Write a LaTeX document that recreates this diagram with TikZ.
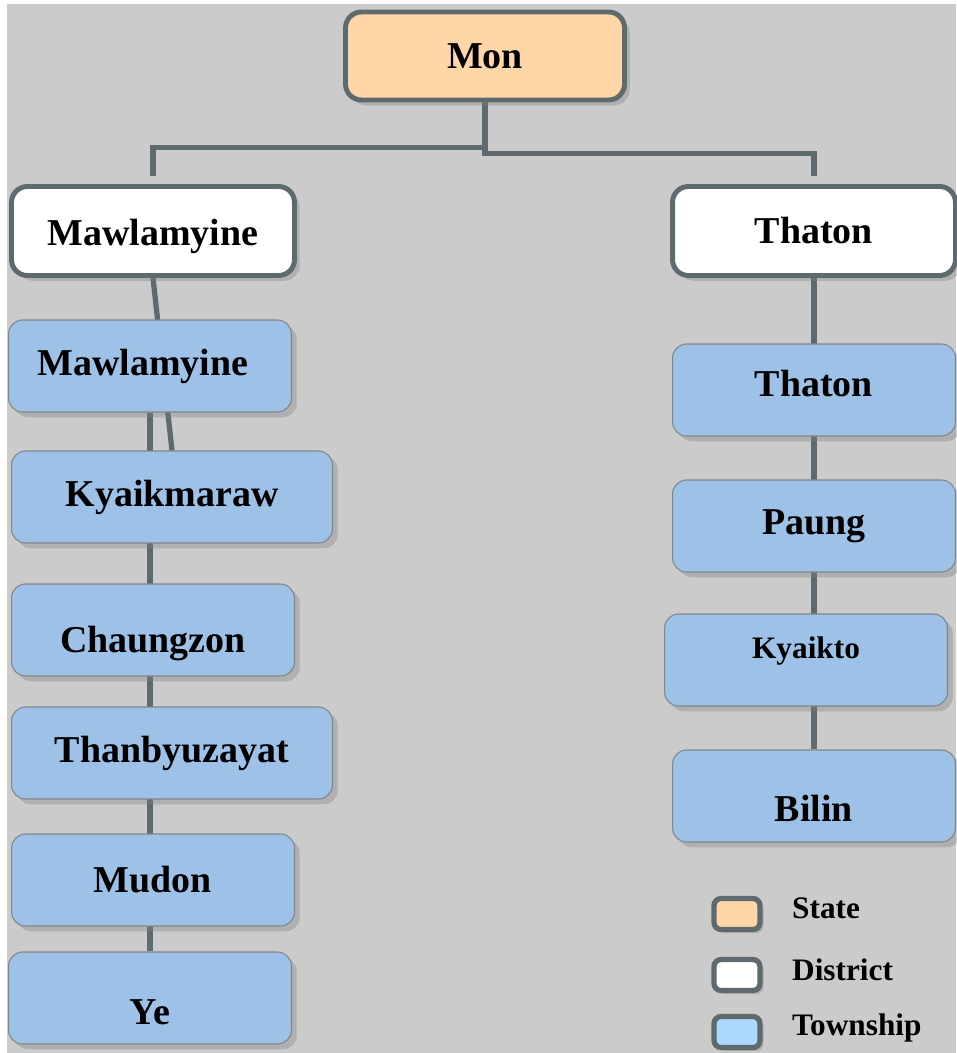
\documentclass[tikz,border=0pt]{standalone}
\usepackage{fontspec}
\setmainfont{Liberation Serif}
\usepackage{tikz}
\usetikzlibrary{positioning, shadows, backgrounds}
\definecolor{myframe}{RGB}{94,106,109}
\definecolor{mybg}{RGB}{203,203,203}
\definecolor{mypeach}{RGB}{255,214,168}
\definecolor{myblue}{RGB}{158,193,231}
\definecolor{mylight}{RGB}{173,216,254}
% move a label inside its box without changing the box
\newcommand{\nudge}[2]{\raisebox{#1}[\height][\depth]{#2}}
\tikzset{
  statebox/.style={rectangle, draw=myframe, fill=mypeach,
    minimum width=5.58cm, minimum height=1.76cm, rounded corners=9pt,
    font=\bfseries\fontsize{21.6}{24}\selectfont, line width=2.8pt,
    drop shadow={shadow xshift=3pt, shadow yshift=-3pt, opacity=0.35}},
  distbox/.style={statebox, fill=white, minimum width=5.66cm, minimum height=1.78cm},
  twpbox/.style={rectangle, draw=myframe!80, fill=myblue,
    minimum width=5.66cm, minimum height=1.84cm, rounded corners=8pt,
    font=\bfseries\fontsize{21.6}{24}\selectfont, line width=0.6pt,
    drop shadow={shadow xshift=3pt, shadow yshift=-3pt, opacity=0.35}},
  widebox/.style={twpbox, minimum width=6.42cm},
  keybox/.style={rectangle, draw=myframe, minimum width=0.92cm, minimum height=0.62cm,
    rounded corners=4pt, line width=3pt,
    drop shadow={shadow xshift=2pt, shadow yshift=-2pt, opacity=0.35}},
  keytext/.style={anchor=west, font=\bfseries\fontsize{17.8}{20}\selectfont},
  link/.style={draw=myframe, line width=3pt}
}

\begin{document}
\begin{tikzpicture}[x=0.02cm, y=-0.02cm]
  \useasboundingbox (0,0) rectangle (956,1053);

  % state and districts
  \node[statebox] (mon) at (485,56) {Mon};
  \node[distbox] (mdist) at (153,231) {\nudge{-0.1cm}{Mawlamyine}};
  \node[distbox] (tdist) at (814,231) {Thaton};

  % townships of Mawlamyine
  \node[twpbox] (mtown) at (150,366) {\hspace{-0.28cm}Mawlamyine};
  \node[widebox] (kyaik) at (172,497) {Kyaikmaraw};
  \node[twpbox] (chaung) at (153,630) {\nudge{-0.28cm}{Chaungzon}};
  \node[widebox] (thanb) at (172,753) {Thanbyuzayat};
  \node[twpbox] (mudon) at (153,880) {Mudon};
  \node[twpbox] (ye) at (150,998) {\nudge{-0.28cm}{Ye}};

  % townships of Thaton
  \node[twpbox] (ttown) at (814,390) {\nudge{0.12cm}{Thaton}};
  \node[twpbox] (paung) at (814,526) {Paung};
  \node[twpbox, font=\bfseries\fontsize{17.8}{20}\selectfont] (kyaikto) at (806,660) {\nudge{0.18cm}{Kyaikto}};
  \node[twpbox] (bilin) at (814,796) {\nudge{-0.24cm}{Bilin}};

  % legend
  \node[keybox, fill=mypeach] (kstate) at (737,914) {};
  \node[keybox, fill=white] (kdist) at (737,975) {};
  \node[keybox, fill=mylight] (ktwp) at (737,1032) {};
  \node[keytext] (lstate) at (786,908) {State};
  \node[keytext] (ldist) at (786,970) {District};
  \node[keytext] (ltwp) at (786,1028) {Township};

  \begin{scope}[on background layer]
    \fill[white] (0,0) rectangle (956,1053);
    \fill[mybg] (7,4) rectangle (956,1053);
    \draw[link, shorten >=0.16cm] (mon.south) -- ++(0,45) -| (mdist.north);
    \draw[link, shorten >=0.16cm] (mon.south) -- ++(0,51) -| (tdist.north);
    \draw[link] (mdist.south) -- (kyaik.north);
    \draw[link] (mtown.south) -- (ye.north);
    \draw[link] (tdist.south) -- (bilin.north);
  \end{scope}
\end{tikzpicture}
\end{document}
